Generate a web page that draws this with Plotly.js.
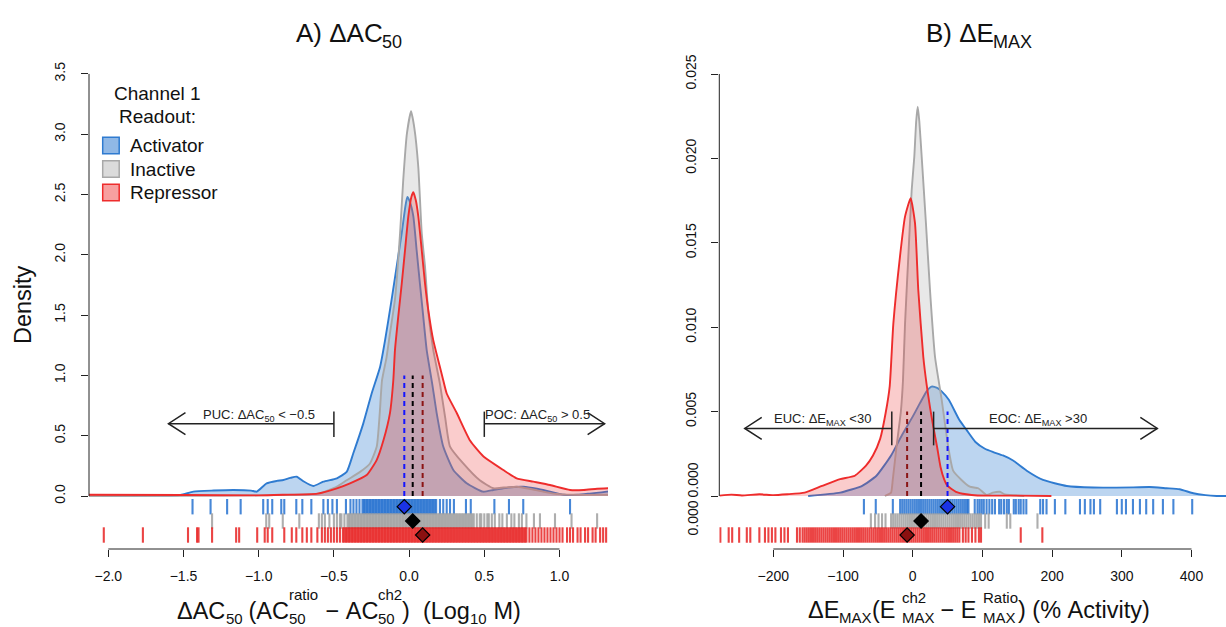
<!DOCTYPE html>
<html><head><meta charset="utf-8">
<script src="https://cdn.plot.ly/plotly-3.0.1.min.js"></script>
<style>html,body{margin:0;padding:0;background:#fff}#chart{width:1226px;height:627px}</style>
</head><body><div id="chart"></div>
<script>
// ---------- DATA ----------
const groups = ['Activator', 'Inactive', 'Repressor'];
const legendTitle = ['Channel 1', 'Readout:'];

// Panel A: density of ΔAC50
const acActX = [-2.13,-1.7,-1.52,-1.435,-1.3,-1.169,-1.05,-1.013,-0.947,-0.88,-0.836,-0.79,-0.747,-0.70,-0.637,-0.57,-0.48,-0.415,-0.371,-0.305,-0.249,-0.193,-0.160,-0.116,-0.083,-0.049,-0.025,-0.012,0.005,0.028,0.05,0.072,0.094,0.117,0.155,0.183,0.227,0.294,0.383,0.493,0.56,0.626,0.70,0.76,0.85,0.937,1.03,1.12,1.2,1.314,1.33];
const acActY = [0,0.003,0.008,0.036,0.045,0.05,0.045,0.036,0.105,0.125,0.133,0.15,0.16,0.12,0.083,0.119,0.147,0.20,0.354,0.60,0.85,1.07,1.29,1.63,1.90,2.18,2.40,2.48,2.44,2.32,2.04,1.76,1.49,1.21,0.92,0.69,0.41,0.216,0.105,0.036,0.05,0.064,0.075,0.077,0.06,0.036,0.01,0.01,0.02,0.036,0.04];
const acInaX = [-2.13,-1.5,-1.0,-0.75,-0.6,-0.48,-0.415,-0.326,-0.26,-0.215,-0.195,-0.18,-0.15,-0.127,-0.094,-0.06,-0.039,-0.015,0.013,0.035,0.061,0.084,0.106,0.128,0.161,0.205,0.24,0.272,0.36,0.47,0.56,0.63,0.715,0.8,0.89,0.96,1.1,1.33];
const acInaY = [0,0.002,0.005,0.01,0.02,0.077,0.13,0.20,0.27,0.41,0.69,0.96,1.15,1.35,1.63,2.18,2.62,3.0,3.19,3.05,2.73,2.18,1.90,1.52,1.21,0.93,0.65,0.41,0.27,0.13,0.064,0.07,0.077,0.06,0.036,0.02,0.01,0.01];
const acRepX = [-2.13,-1.5,-1.0,-0.84,-0.61,-0.48,-0.393,-0.282,-0.215,-0.171,-0.127,-0.105,-0.094,-0.072,-0.049,-0.027,-0.005,0.015,0.028,0.045,0.061,0.084,0.106,0.128,0.161,0.205,0.227,0.25,0.316,0.405,0.493,0.626,0.715,0.826,0.937,1.07,1.16,1.25,1.33];
const acRepY = [0.01,0.008,0.005,0.01,0.02,0.064,0.105,0.174,0.30,0.46,0.69,0.96,1.21,1.49,1.76,2.04,2.32,2.48,2.52,2.45,2.32,2.04,1.76,1.54,1.29,1.07,0.96,0.85,0.69,0.46,0.33,0.216,0.147,0.119,0.091,0.05,0.05,0.06,0.064];

// Panel A rugs (individual compounds)
const acRugAct = [-1.44,-1.32,-1.21,-1.12,-0.97,-0.94,-0.91,-0.85,-0.83,-0.75,-0.71,-0.65,-0.57,-0.54,-0.51,-0.48,-0.42,-0.39,-0.37,-0.35,-0.33,-0.31,-0.30,-0.29,-0.28,-0.27,-0.26,-0.25,-0.24,-0.23,-0.22,-0.21,-0.20,-0.19,-0.18,-0.17,-0.16,-0.15,-0.14,-0.13,-0.12,-0.11,-0.10,-0.09,-0.08,-0.07,-0.06,-0.05,-0.04,-0.03,-0.02,-0.01,0.00,0.01,0.02,0.03,0.04,0.05,0.06,0.07,0.08,0.09,0.10,0.11,0.12,0.13,0.14,0.15,0.16,0.17,0.18,0.205,0.227,0.25,0.272,0.298,0.378,0.41,0.567,0.664,0.759,1.07];
const acRugIna = [-1.31,-0.95,-0.93,-0.84,-0.73,-0.60,-0.58,-0.56,-0.53,-0.50,-0.48,-0.46,-0.45,-0.43,-0.41,-0.40,-0.39,-0.38,-0.37,-0.36,-0.35,-0.34,-0.33,-0.32,-0.31,-0.30,-0.29,-0.28,-0.27,-0.26,-0.25,-0.24,-0.23,-0.22,-0.21,-0.20,-0.19,-0.18,-0.17,-0.16,-0.15,-0.14,-0.13,-0.12,-0.11,-0.10,-0.09,-0.08,-0.07,-0.06,-0.05,-0.04,-0.03,-0.02,-0.01,0.00,0.01,0.02,0.03,0.04,0.05,0.06,0.07,0.08,0.09,0.10,0.11,0.12,0.13,0.14,0.15,0.16,0.17,0.18,0.19,0.20,0.21,0.22,0.23,0.24,0.25,0.26,0.27,0.28,0.29,0.30,0.31,0.32,0.33,0.34,0.35,0.36,0.37,0.38,0.39,0.40,0.41,0.42,0.43,0.45,0.47,0.48,0.50,0.52,0.53,0.55,0.57,0.60,0.62,0.65,0.68,0.70,0.73,0.75,0.78,0.83,0.87,0.97,1.08,1.25];
const acRugRep = [-2.03,-1.77,-1.47,-1.41,-1.40,-1.31,-1.15,-1.13,-1.01,-0.96,-0.94,-0.91,-0.83,-0.78,-0.75,-0.71,-0.68,-0.65,-0.61,-0.58,-0.56,-0.54,-0.52,-0.50,-0.48,-0.46,-0.44,-0.43,-0.42,-0.41,-0.40,-0.39,-0.38,-0.37,-0.36,-0.35,-0.34,-0.33,-0.32,-0.31,-0.30,-0.29,-0.28,-0.27,-0.26,-0.25,-0.24,-0.23,-0.22,-0.21,-0.20,-0.19,-0.18,-0.17,-0.16,-0.15,-0.14,-0.13,-0.12,-0.11,-0.10,-0.09,-0.08,-0.07,-0.06,-0.05,-0.04,-0.03,-0.02,-0.01,0.00,0.01,0.02,0.03,0.04,0.05,0.06,0.07,0.08,0.09,0.10,0.11,0.12,0.13,0.14,0.15,0.16,0.17,0.18,0.19,0.20,0.21,0.22,0.23,0.24,0.25,0.26,0.27,0.28,0.29,0.30,0.31,0.32,0.33,0.34,0.35,0.36,0.37,0.38,0.39,0.40,0.41,0.42,0.43,0.44,0.45,0.46,0.47,0.48,0.49,0.50,0.51,0.52,0.53,0.54,0.55,0.56,0.57,0.58,0.59,0.60,0.61,0.62,0.63,0.64,0.65,0.66,0.67,0.68,0.69,0.70,0.71,0.72,0.73,0.74,0.75,0.76,0.77,0.78,0.80,0.82,0.84,0.86,0.88,0.90,0.92,0.94,0.96,0.98,1.00,1.02,1.05,1.07,1.09,1.12,1.14,1.17,1.19,1.22,1.24,1.27,1.29,1.31,1.33];
const acMedians = [-0.032, 0.024, 0.09];   // Activator, Inactive, Repressor

// Panel B: density of ΔEMAX
const emActX = [-150,-104,-72.5,-52,-31,-15.5,0,10.4,20,27,35,41.5,51.8,67,77.5,90,103.6,115.6,129.5,144,163.6,187,221,259,316.5,340,364,383,402.6,420,436,449.5];
const emActY = [0,0.0002,0.0006,0.0012,0.0024,0.0036,0.0047,0.0055,0.0062,0.00648,0.0064,0.0062,0.0057,0.0045,0.0039,0.0032,0.0028,0.0026,0.0024,0.0021,0.0015,0.00095,0.00059,0.0005,0.00051,0.00053,0.00046,0.0004,0.00016,0.00005,0,0];
const emInaX = [-40,-35,-31,-28.5,-23,-17,-14,-11,-6.3,-1.5,2.3,5,7.2,9.5,12.9,19,24.8,32,41.6,51,58,70,82,94,106,115,125,132,140,160];
const emInaY = [0,0.0001,0.0002,0.001,0.003,0.005,0.0068,0.0102,0.01418,0.0181,0.0201,0.0222,0.02306,0.0222,0.0201,0.01616,0.0122,0.00825,0.0057,0.0029,0.0015,0.00095,0.00055,0.00046,0.00006,0.0002,0.00025,0.0001,0.00006,0];
const emRepX = [-277,-260,-245,-220,-200,-180,-155,-130,-104,-83,-67,-57,-46.6,-38.9,-33,-27.8,-18.2,-11,-2.9,3.3,8,15.2,20,25,30,35,40,45,50,62,77,93,150,199];
const emRepY = [0.00002,0.00008,0.00003,0.0001,0.00005,0.0001,0.0002,0.0006,0.001,0.0012,0.0018,0.0024,0.0034,0.0049,0.0065,0.0102,0.0142,0.01655,0.01764,0.01616,0.0122,0.00825,0.0066,0.0052,0.004,0.0029,0.0017,0.001,0.0006,0.00025,0.0001,0.00003,0.00002,0];

const emRugAct = [-70,-53,-28.5,-18,-15,-12,-9,-6,-3,0,3,6,9,12,15,18,21,24,27,30,33,36,39,42,45,48,51,54,57,60,63,66,69,72,75,78,80,89,93,96,99,102,106,110,114,118,124,127,131,135,138,145,148,152,155,159,163,183,187,192,204,219,240,247,255,260,269,293,300,306,316,326,335,345,359,374,401];
const emRugIna = [-60,-54,-49,-44,-39,-31,-28,-25,-22,-19,-16,-13,-10,-7,-4,-1,2,5,8,11,14,17,20,23,26,29,32,35,38,41,44,47,50,53,56,59,62,65,68,71,74,77,80,83,86,89,92,95,98,104,109,135,140,179];
const emRugRep = [-276,-264,-259,-249,-238,-233,-220,-212,-207,-202,-197,-189,-184,-179,-166,-162,-158,-155,-152,-149,-146,-143,-140,-137,-134,-131,-128,-125,-122,-119,-116,-113,-110,-107,-104,-101,-98,-95,-92,-89,-86,-83,-80,-77,-74,-71,-68,-65,-62,-59,-56,-53,-50,-47,-44,-41,-38,-35,-32,-29,-26,-23,-20,-17,-14,-11,-8,-5,-2,1,4,7,10,13,16,19,22,25,28,31,34,37,40,43,46,49,52,55,58,61,64,67,72,76,80,85,90,95,98,155,186];
const emMedians = [50, 12, -8];

// Tick labels
const acTickVals = [-2,-1.5,-1,-0.5,0,0.5,1];
const acTickText = ['\u22122.0','\u22121.5','\u22121.0','\u22120.5','0.0','0.5','1.0'];
const acYTickVals = [0,0.5,1,1.5,2,2.5,3,3.5];
const acYTickText = ['0.0','0.5','1.0','1.5','2.0','2.5','3.0','3.5'];
const emTickVals = [-200,-100,0,100,200,300,400];
const emTickText = ['\u2212200','\u2212100','0','100','200','300','400'];
const emYTickVals = [0,0.005,0.01,0.015,0.02,0.025];
const emYTickText = ['', '0.005','0.010','0.015','0.020','0.025'];
const emZeroLabels = ['0.000', '0.000'];

// Thresholds used for the class arrows
const acThresh = [-0.5, 0.5];
const emThresh = [-30, 30];

// ---------- STYLE / LAYOUT ----------
const W = 1226, H = 627;
const FONT = "'Liberation Sans', Arial, Helvetica, sans-serif";
const TXT = '#111';
const lineCol = ['#2f7bd0', '#a8a8a8', '#ee2c2c'];
const fillCol = ['rgba(52,126,210,0.33)', 'rgba(170,170,170,0.27)', 'rgba(235,50,50,0.25)'];
const rugCol = ['rgba(25,105,205,0.8)', 'rgba(160,160,160,0.85)', 'rgba(232,35,35,0.85)'];
const medCol = ['#1414ff', '#000000', '#8b1414'];
const diaFill = ['#1a33e6', '#000000', '#8b1010'];
const legFill = ['rgba(52,126,210,0.55)', 'rgba(190,190,190,0.55)', 'rgba(240,80,80,0.55)'];

const PX = {aL: 89, aR: 608, bL: 719.3, bR: 1226, top: 62, bot: 549, zero: 496};
const acScale = {x0px: 409.1, pxPerX: 150.4, pxPerY: 120.6};
const emScale = {x0px: 912.7, pxPerX: 0.697, pxPerY: 16880};
const acXR = [(PX.aL - acScale.x0px) / acScale.pxPerX, (PX.aR - acScale.x0px) / acScale.pxPerX];
const acYR = [(PX.zero - PX.bot) / acScale.pxPerY, (PX.zero - PX.top) / acScale.pxPerY];
const emXR = [(PX.bL - emScale.x0px) / emScale.pxPerX, (PX.bR - emScale.x0px) / emScale.pxPerX];
const emYR = [(PX.zero - PX.bot) / emScale.pxPerY, (PX.zero - PX.top) / emScale.pxPerY];
const rowPx = [506.7, 521, 535];
const acRows = rowPx.map(p => (PX.zero - p) / acScale.pxPerY);
const emRows = rowPx.map(p => (PX.zero - p) / emScale.pxPerY);

const traces = [];
function panel(xa, ya, dens, rugs, meds, rows, medTop) {
  dens.forEach((d, i) => traces.push({
    type: 'scatter', mode: 'lines', x: d[0], y: d[1], xaxis: xa, yaxis: ya, name: groups[i],
    fill: 'tozeroy', fillcolor: fillCol[i], line: {color: lineCol[i], width: 1.9, shape: 'spline', smoothing: 0.5},
    showlegend: false, hoverinfo: 'skip'
  }));
  meds.forEach((m, i) => traces.push({
    type: 'scatter', mode: 'lines', x: [m, m], y: [0, medTop], xaxis: xa, yaxis: ya,
    line: {color: medCol[i], width: 2, dash: '5px,4px'}, showlegend: false, hoverinfo: 'skip'
  }));
  rugs.forEach((r, i) => traces.push({
    type: 'scatter', mode: 'markers', x: r, y: r.map(() => rows[i]), xaxis: xa, yaxis: ya,
    marker: {symbol: 'line-ns-open', size: 11, color: rugCol[i], line: {color: rugCol[i], width: 2.1}},
    showlegend: false, hoverinfo: 'skip'
  }));
  traces.push({
    type: 'scatter', mode: 'markers', x: meds, y: rows, xaxis: xa, yaxis: ya,
    marker: {symbol: 'diamond', size: 11, color: diaFill, line: {color: '#000', width: 1.2}},
    showlegend: false, hoverinfo: 'skip'
  });
}
panel('x', 'y', [[acActX, acActY], [acInaX, acInaY], [acRepX, acRepY]], [acRugAct, acRugIna, acRugRep], acMedians, acRows, 1.0);
panel('x2', 'y2', [[emActX, emActY], [emInaX, emInaY], [emRepX, emRepY]], [emRugAct, emRugIna, emRugRep], emMedians, emRows, 0.005);

// ---- text with stacked super/subscripts ----
const cv = document.createElement('canvas').getContext('2d');
function meas(t, s) { cv.font = s + "px 'Liberation Sans'"; return cv.measureText(t).width; }
function mathAnn(parts, cx, cy, fs, ss, subOff, supOff) {
  const widths = parts.map(p => p.t !== undefined ? meas(p.t, fs) : Math.max(p.sup ? meas(p.sup, ss) : 0, p.sub ? meas(p.sub, ss) : 0));
  const total = widths.reduce((a, b) => a + b, 0);
  let x = cx - total / 2; const out = [];
  parts.forEach((p, i) => {
    const mk = (t, s, y) => ({xref: 'paper', yref: 'paper', x: x / W, y: (H - y) / H, xanchor: 'left', yanchor: 'middle',
      text: t, showarrow: false, font: {size: s, family: FONT, color: TXT}, borderpad: 0, borderwidth: 0});
    if (p.t !== undefined) out.push(mk(p.t, fs, cy));
    if (p.sup) out.push(mk(p.sup, ss, cy + supOff));
    if (p.sub) out.push(mk(p.sub, ss, cy + subOff));
    x += widths[i];
  });
  return out;
}
const NB = '\u00a0';
let annotations = [];
annotations = annotations.concat(mathAnn([{t: 'A)' + NB + '\u0394AC'}, {sub: '50'}], 349, 33, 26, 18, 9, -12));
annotations = annotations.concat(mathAnn([{t: 'B)' + NB + '\u0394E'}, {sub: 'MAX'}], 979, 33, 26, 18, 9, -12));
annotations = annotations.concat(mathAnn([
  {t: '\u0394AC'}, {sub: '50'}, {t: NB + '(AC'}, {sup: 'ratio', sub: '50'}, {t: NB + '\u2212' + NB + 'AC'}, {sup: 'ch2', sub: '50'},
  {t: ')' + NB + NB + '(Log'}, {sub: '10'}, {t: NB + 'M)'}], 349, 611, 23.5, 15, 7.5, -17));
annotations = annotations.concat(mathAnn([
  {t: '\u0394E'}, {sub: 'MAX'}, {t: '(E' + NB}, {sup: 'ch2', sub: 'MAX'}, {t: NB + '\u2212' + NB + 'E' + NB}, {sup: 'Ratio', sub: 'MAX'},
  {t: ')' + NB + '(%' + NB + 'Activity)'}], 979, 610, 23.5, 15, 7.5, -13));
annotations.push({xref: 'paper', yref: 'paper', x: 23 / W, y: (H - 305) / H, xanchor: 'center', yanchor: 'middle', textangle: -90,
  text: 'Density', showarrow: false, font: {size: 23.5, family: FONT, color: TXT}});
// class labels
const lab = (xa, ya, x, y, t) => ({xref: xa, yref: ya, x: x, y: y, xanchor: 'center', yanchor: 'middle', text: t, showarrow: false,
  font: {size: 13, family: FONT, color: '#222'}});
annotations.push(lab('x', 'y', -0.998, 0.665, 'PUC: \u0394AC<sub>50</sub> &lt; \u22120.5'));
annotations.push(lab('x', 'y', 0.854, 0.665, 'POC: \u0394AC<sub>50</sub> &gt; 0.5'));
annotations.push(lab('x2', 'y2', -129, 0.00455, 'EUC: \u0394E<sub>MAX</sub> &lt;30'));
annotations.push(lab('x2', 'y2', 180, 0.00455, 'EOC: \u0394E<sub>MAX</sub> &gt;30'));
// the two stacked zero labels of panel B's y axis (as in the original)
[480, 518].forEach((py, i) => annotations.push({xref: 'paper', yref: 'paper', x: 692.5 / W, y: (H - py) / H, xanchor: 'center', yanchor: 'middle', textangle: -90,
  text: emZeroLabels[i], showarrow: false, font: {size: 14, family: FONT, color: TXT}}));

// manual legend (R style)
const shapes = [];
const legX = 102.7, legSq = 16.5, legRows = [145.5, 169, 192.5];
legendTitle.forEach((t, i) => annotations.push({xref: 'paper', yref: 'paper', x: 157 / W, y: (H - [93, 117][i]) / H,
  xanchor: 'center', yanchor: 'middle', text: t, showarrow: false, font: {size: 19, family: FONT, color: TXT}}));
groups.forEach((g, i) => {
  const cy = legRows[i];
  shapes.push({type: 'rect', xref: 'paper', yref: 'paper', x0: legX / W, x1: (legX + legSq) / W,
    y0: (H - cy - legSq / 2) / H, y1: (H - cy + legSq / 2) / H, fillcolor: legFill[i], line: {color: lineCol[i], width: 1.5}});
  annotations.push({xref: 'paper', yref: 'paper', x: 128 / W, y: (H - cy) / H, xanchor: 'left', yanchor: 'middle',
    text: g, showarrow: false, font: {size: 19, family: FONT, color: TXT}});
});

// shapes: axis lines & arrows
const AX = '#222';
shapes.push(
  {type: 'line', xref: 'x domain', yref: 'y', x0: 0, x1: 0, y0: acYTickVals[0], y1: acYTickVals[acYTickVals.length - 1], line: {color: AX, width: 1}},
  {type: 'line', xref: 'x', yref: 'y domain', x0: acTickVals[0], x1: acTickVals[acTickVals.length - 1], y0: 0, y1: 0, line: {color: AX, width: 1}},
  {type: 'line', xref: 'x2 domain', yref: 'y2', x0: 0, x1: 0, y0: emYTickVals[0], y1: emYTickVals[emYTickVals.length - 1], line: {color: AX, width: 1}},
  {type: 'line', xref: 'x2', yref: 'y2 domain', x0: emTickVals[0], x1: emTickVals[emTickVals.length - 1], y0: 0, y1: 0, line: {color: AX, width: 1}}
);
function arrow(xa, ya, xFrom, xTo, yLine, barLo, barHi) {
  const st = {color: '#222', width: 1.5};
  shapes.push({type: 'line', xref: xa, yref: ya, x0: xFrom, x1: xTo, y0: yLine, y1: yLine, line: st});
  shapes.push({type: 'line', xref: xa, yref: ya, x0: xFrom, x1: xFrom, y0: barLo, y1: barHi, line: st});
  const d = xTo < xFrom ? 17 : -17;
  shapes.push({type: 'path', xref: xa, yref: ya, xsizemode: 'pixel', ysizemode: 'pixel', xanchor: xTo, yanchor: yLine,
    path: `M ${d},11 L 0,0 L ${d},-11`, line: st});
}
arrow('x', 'y', acThresh[0], -1.6, 0.6, 0.49, 0.70);
arrow('x', 'y', acThresh[1], 1.30, 0.6, 0.49, 0.70);
arrow('x2', 'y2', emThresh[0], -241, 0.004, 0.003, 0.005);
arrow('x2', 'y2', emThresh[1], 351, 0.004, 0.003, 0.005);

const axBase = {showgrid: false, zeroline: false, showline: false, ticks: 'outside', ticklen: 7, tickwidth: 1, tickcolor: AX,
  tickfont: {size: 14, family: FONT, color: TXT}, fixedrange: true};
const yDom = [(H - PX.bot) / H, (H - PX.top) / H];
const layout = {
  width: W, height: H, margin: {l: 0, r: 0, t: 0, b: 0}, paper_bgcolor: '#fff', plot_bgcolor: 'rgba(0,0,0,0)',
  font: {family: FONT, color: TXT}, showlegend: false,
  xaxis: Object.assign({}, axBase, {domain: [PX.aL / W, PX.aR / W], range: acXR, tickvals: acTickVals, ticktext: acTickText, anchor: 'y', ticklabelstandoff: 7}),
  yaxis: Object.assign({}, axBase, {domain: yDom, range: acYR, tickvals: acYTickVals, ticktext: acYTickText, anchor: 'x', tickangle: -90, ticklabelstandoff: 10}),
  xaxis2: Object.assign({}, axBase, {domain: [PX.bL / W, PX.bR / W], range: emXR, tickvals: emTickVals, ticktext: emTickText, anchor: 'y2', ticklabelstandoff: 7}),
  yaxis2: Object.assign({}, axBase, {domain: yDom, range: emYR, tickvals: emYTickVals, ticktext: emYTickText, anchor: 'x2', tickangle: -90, ticklabelstandoff: 10}),
  annotations: annotations, shapes: shapes
};
Plotly.newPlot('chart', traces, layout, {staticPlot: true, displayModeBar: false});
</script></body></html>
